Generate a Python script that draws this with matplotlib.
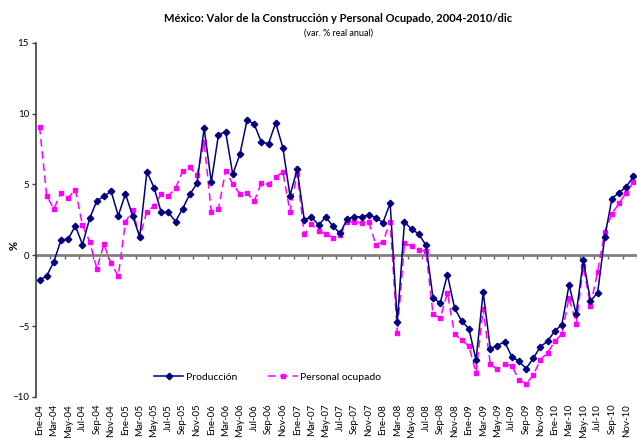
import matplotlib
matplotlib.use('Agg')
import matplotlib.pyplot as plt
import numpy as np

plt.rcParams['font.family'] = ['Lato', 'DejaVu Sans']

# Meses de ene-2004 a dic-2010
meses = ['Ene', 'Feb', 'Mar', 'Abr', 'May', 'Jun',
         'Jul', 'Ago', 'Sep', 'Oct', 'Nov', 'Dic']
anios = ['04', '05', '06', '07', '08', '09', '10']
etiquetas = [m + '-' + a for a in anios for m in meses]

# Variacion % real anual
produccion = [
    -1.77, -1.46, -0.45, 1.08, 1.15, 2.07, 0.76, 2.60, 3.84, 4.17, 4.52, 2.80,
    4.33, 2.80, 1.30, 5.90, 4.78, 3.04, 3.04, 2.38, 3.30, 4.31, 5.07, 8.98,
    5.18, 8.50, 8.74, 5.72, 7.14, 9.54, 9.26, 7.99, 7.89, 9.35, 7.61, 4.22,
    6.06, 2.50, 2.71, 2.14, 2.71, 2.05, 1.55, 2.57, 2.73, 2.71, 2.85, 2.66,
    2.31, 3.67, -4.73, 2.35, 1.84, 1.51, 0.71, -3.02, -3.37, -1.36, -3.72, -4.66,
    -5.18, -7.40, -2.61, -6.60, -6.38, -6.10, -7.17, -7.49, -8.00, -7.28, -6.45, -6.08,
    -5.35, -4.90, -2.10, -4.12, -0.35, -3.23, -2.64, 1.32, 4.01, 4.43, 4.83, 5.58,
]
personal = [
    9.07, 4.19, 3.27, 4.43, 4.05, 4.64, 2.12, 0.97, -0.94, 0.78, -0.57, -1.46,
    2.35, 3.18, 1.30, 3.09, 3.48, 4.33, 4.19, 4.73, 5.96, 6.20, 5.65, 7.99,
    3.06, 3.27, 5.96, 5.04, 4.33, 4.38, 3.82, 5.11, 5.00, 5.51, 5.89, 3.09,
    5.77, 1.48, 2.19, 1.72, 1.51, 1.25, 1.41, 2.35, 2.35, 2.28, 2.35, 0.76,
    0.94, 2.38, -5.52, 0.85, 0.64, 0.38, 0.28, -4.17, -4.43, -2.66, -5.56, -6.00,
    -6.41, -8.29, -3.79, -7.70, -8.06, -7.70, -7.80, -8.80, -9.07, -8.48, -7.37, -6.90,
    -6.08, -5.56, -2.99, -4.83, -0.78, -3.55, -1.15, 1.67, 2.94, 3.67, 4.43, 5.18,
]

x = np.arange(len(etiquetas))

fig = plt.figure(figsize=(6.37, 4.38), dpi=100)
ax = fig.add_axes([0.0565, 0.094, 0.9435, 0.808])

ax.plot(x, produccion, color='#000080', lw=1.1, marker='D', ms=3.3,
        label='Producción', zorder=3)
ax.plot(x, personal, color='#FF00FF', lw=1.1, ls=(0, (5, 3)), marker='s',
        ms=3.3, label='Personal ocupado', zorder=2)

ax.set_xlim(-0.5, len(x) - 0.5)
ax.set_ylim(-10, 15)
ax.set_yticks([-10, -5, 0, 5, 10, 15])
ax.tick_params(axis='y', direction='out', length=3, width=1, colors='#404040',
               labelsize=7, labelcolor='black', pad=2)

# etiquetas de mes abajo, sin marca
ax.set_xticks(x[::2])
ax.set_xticklabels(etiquetas[::2], rotation=90, fontsize=7)
ax.tick_params(axis='x', length=0, pad=5)

for s in ['top', 'right', 'bottom']:
    ax.spines[s].set_visible(False)
ax.spines['left'].set_color('#404040')
ax.spines['left'].set_linewidth(1.2)

# eje de categorias cruzando en cero
eje0 = ax.secondary_xaxis(10 / 25)
eje0.set_xticks(np.arange(-0.5, len(x), 2))
eje0.tick_params(direction='out', length=3, width=1, colors='#606060',
                 labelbottom=False, labeltop=False)
eje0.spines['bottom'].set_color('#808080')
eje0.spines['bottom'].set_linewidth(2)
eje0.spines['top'].set_visible(False)

ax.legend(loc='lower left', bbox_to_anchor=(0.181, 0.015), ncol=2, frameon=False,
          fontsize=7.5, handlelength=2.8, columnspacing=3.0, handletextpad=0.25)

fig.text(0.022, 0.44, '%', ha='center', va='center', fontsize=8,
         fontweight='bold', rotation=90)
fig.text(0.531, 0.958, 'México: Valor de la Construcción y Personal Ocupado, 2004-2010/dic',
         ha='center', va='center', fontsize=8, fontweight='bold')
fig.text(0.531, 0.925, '(var. % real anual)', ha='center', va='center', fontsize=6.5)

fig.savefig('out.png', dpi=100)
